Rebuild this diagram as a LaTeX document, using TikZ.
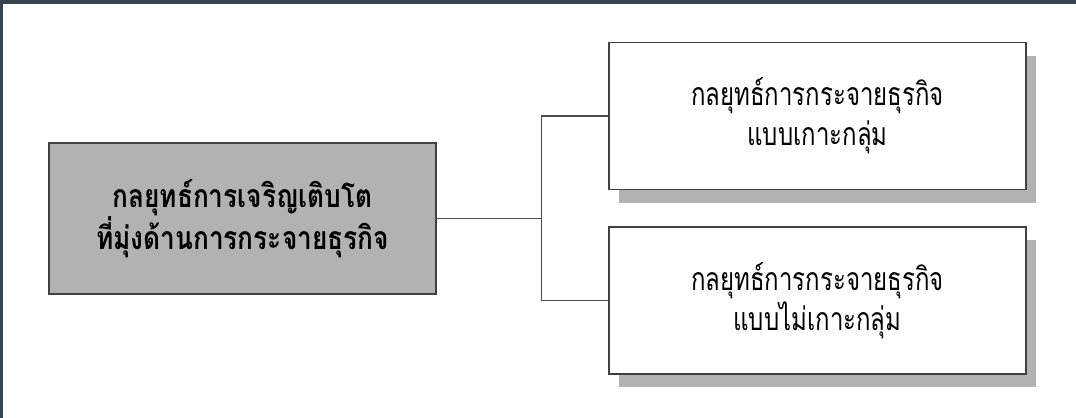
\documentclass[tikz,border=0pt]{standalone}
\usepackage{fontspec}
\newfontfamily\thaifont[Script=Thai, FakeStretch=0.75, BoldFeatures={FakeStretch=0.82}]{Loma}
\usetikzlibrary{shadows}
\definecolor{framedark}{HTML}{36454F}

\begin{document}
\begin{tikzpicture}[
        x=0.75pt, y=0.75pt,
        box/.style={rectangle, draw=black!75, line width=1.1pt, align=center, inner sep=0pt,
            font=\thaifont\fontsize{24}{30}\selectfont},
        mainbox/.style={box, fill=black!30, minimum width=290pt, minimum height=113pt,
            font=\thaifont\bfseries\fontsize{24}{28}\selectfont},
        sidebox/.style={box, fill=white, minimum width=313pt, minimum height=110pt,
            drop shadow={shadow xshift=7.5pt, shadow yshift=-10pt, fill=black!30, opacity=1}},
        link/.style={draw=black!70, line width=0.8pt}
    ]

    \useasboundingbox (0,0) rectangle (1076,418);
    % dark frame on top and left
    \fill[framedark] (0,414) rectangle (1076,418);
    \fill[framedark] (0,0) rectangle (3,418);

    % Strategy boxes
    \node[mainbox] (growth) at (242.5,199.5) {กลยุทธ์การเจริญเติบโต\\ที่มุ่งด้านการกระจายธุรกิจ};
    \node[sidebox] (cluster) at (817.5,302) {กลยุทธ์การกระจายธุรกิจ\\แบบเกาะกลุ่ม};
    \node[sidebox] (noncluster) at (817.5,117.5) {กลยุทธ์การกระจายธุรกิจ\\แบบไม่เกาะกลุ่ม};

    % Split into the two branches
    \draw[link] (growth.east) -- ++(105,0) coordinate (split);
    \draw[link] (cluster.west) -| (split) |- (noncluster.west);

\end{tikzpicture}
\end{document}
